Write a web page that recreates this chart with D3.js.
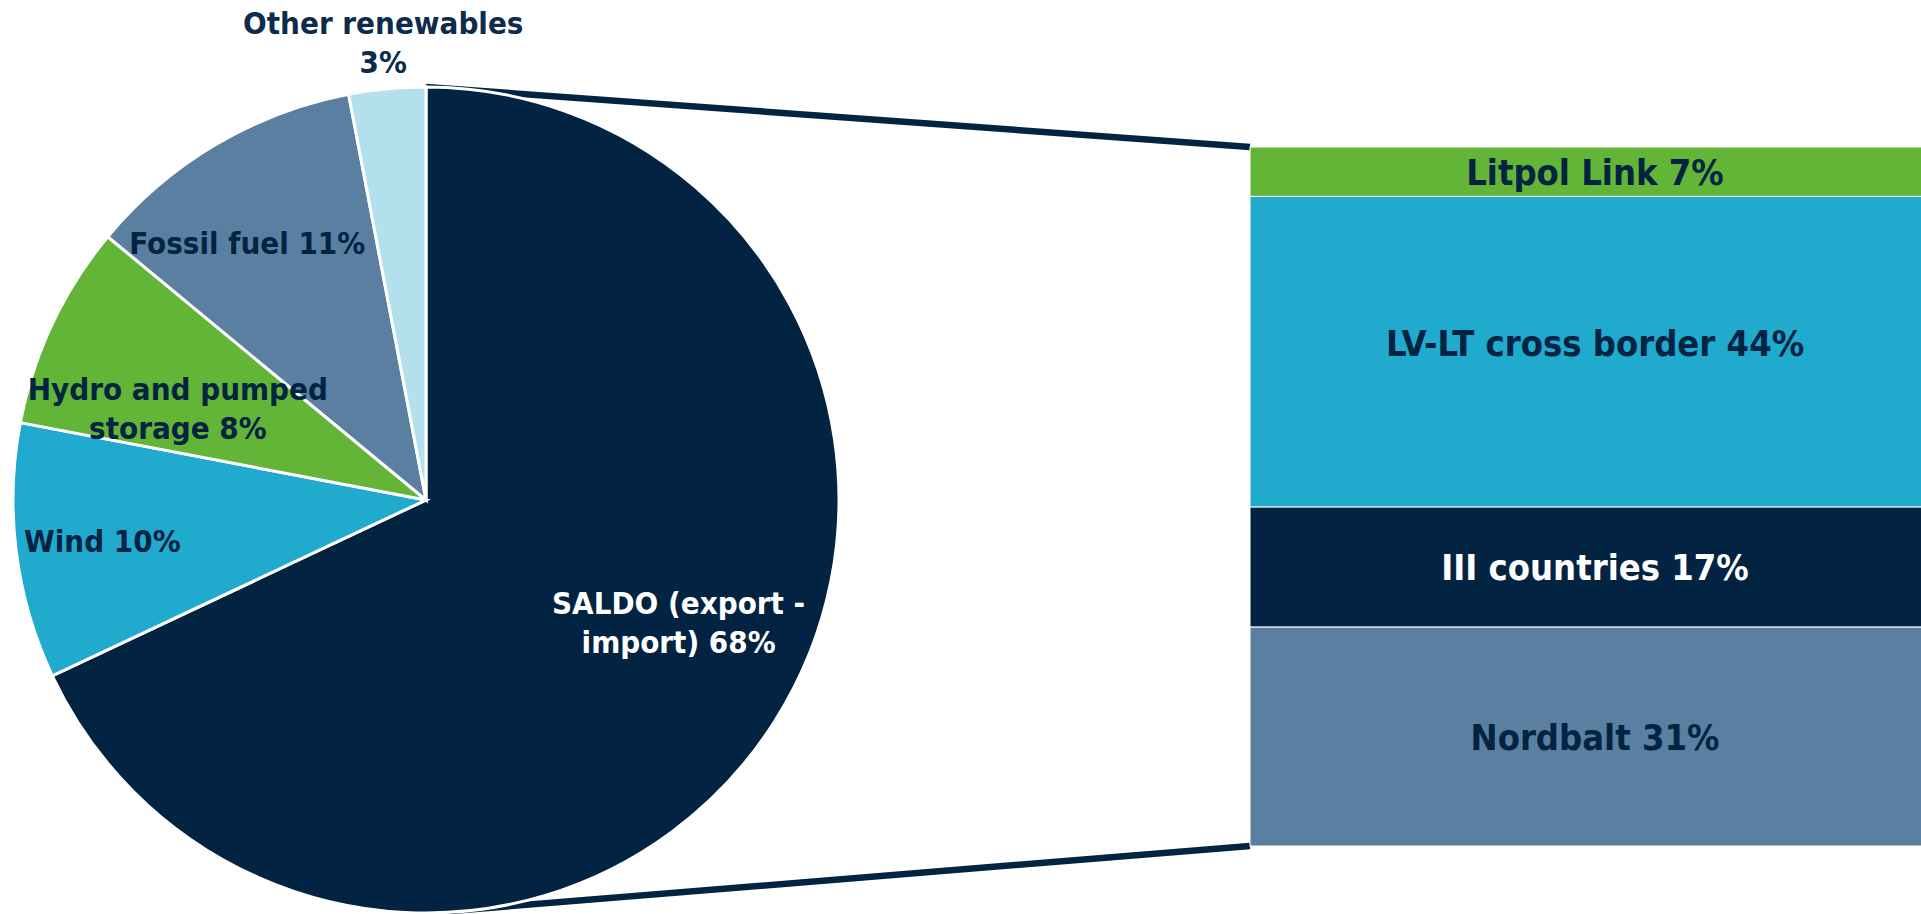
<!DOCTYPE html>
<html>
<head>
    <meta charset="utf-8">
    <title>Electricity balance – pie of bar</title>
    <script src="https://d3js.org/d3.v7.min.js"></script>
    <style>
        html, body { margin: 0; padding: 0; background: #fff; overflow: hidden; }
        text { font-family: "DejaVu Sans Condensed", "DejaVu Sans", sans-serif; font-weight: bold; }
    </style>
</head>
<body>
    <div id="chart"></div>

    <script>
        // pie data (share of total, %)
        const pieNames = ["SALDO (export - import)", "Wind", "Hydro and pumped storage", "Fossil fuel", "Other renewables"];
        const pieValues = [68, 10, 8, 11, 3];
        const pieLabels = [["SALDO (export -", "import) 68%"], ["Wind 10%"], ["Hydro and pumped", "storage 8%"], ["Fossil fuel 11%"], ["Other renewables", "3%"]];

        // breakdown of SALDO (%)
        const barNames = ["Litpol Link", "LV-LT cross border", "III countries", "Nordbalt"];
        const barValues = [7, 44, 17, 31];
        const barLabels = ["Litpol Link 7%", "LV-LT cross border 44%", "III countries 17%", "Nordbalt 31%"];

        const width = 1921, height = 914;
        const navy = "#022341";
        const pieColors = [navy, "#1faace", "#63b537", "#5b7fa1", "#b4e0ee"];
        const pieTextColors = ["#ffffff", navy, navy, navy, "#0d2b4b"];
        const barColors = ["#63b537", "#1faace", navy, "#5b7fa1"];
        const barTextColors = [navy, navy, "#ffffff", navy];
        // label placement: radius fraction along the slice middle, plus a small nudge (px)
        const labelRadius = [0.69, 0.79, 0.64, 0.76, 1.1];
        const labelNudge = [[12, -30], [0, 0], [-9, 21], [-19, 13], [0, -5]];
        const barLabelNudge = [0, -9, 0, 0];

        const pieFont = 31, barFont = 36, lineH = 39;

        const svg = d3.select("#chart")
            .append("svg")
            .attr("width", width)
            .attr("height", height);

        // pie
        const cx = 426, cy = 500, r = 413;
        const pie = d3.pie().sort(null).value(d => d);
        const arc = d3.arc().innerRadius(0).outerRadius(r);
        const arcs = pie(pieValues);

        // bar
        const barX = 1250, barW = 690;
        const y = d3.scaleLinear()
            .domain([0, d3.sum(barValues)])
            .range([147, 846]);
        let acc = 0;
        const stack = barValues.map(v => { const s = acc; acc += v; return {y0: s, y1: acc}; });

        // connector lines
        svg.append("g")
            .selectAll("line")
            .data([[cx, cy - r, barX, y(0)], [cx, cy + r, barX, y(d3.sum(barValues))]])
            .enter()
            .append("line")
            .attr("x1", d => d[0]).attr("y1", d => d[1])
            .attr("x2", d => d[2]).attr("y2", d => d[3])
            .attr("stroke", navy)
            .attr("stroke-width", 6.5);

        const pg = svg.append("g").attr("transform", `translate(${cx},${cy})`);
        pg.selectAll("path")
            .data(arcs)
            .enter()
            .append("path")
            .attr("d", arc)
            .attr("fill", (d, i) => pieColors[i])
            .attr("stroke", "#fff")
            .attr("stroke-width", 3);

        pg.selectAll("text.pl")
            .data(arcs)
            .enter()
            .append("text")
            .attr("class", "pl")
            .attr("text-anchor", "middle")
            .attr("font-size", pieFont)
            .attr("fill", (d, i) => pieTextColors[i])
            .each(function(d, i) {
                const a = (d.startAngle + d.endAngle) / 2;
                const rr = r * labelRadius[i];
                const x = Math.sin(a) * rr + labelNudge[i][0];
                const yy = -Math.cos(a) * rr + labelNudge[i][1];
                const lines = pieLabels[i];
                d3.select(this).selectAll("tspan")
                    .data(lines)
                    .enter()
                    .append("tspan")
                    .attr("x", x)
                    .attr("y", (t, j) => yy + (j - (lines.length - 1) / 2) * lineH)
                    .attr("dy", "0.36em")
                    .text(t => t);
            });

        const bg = svg.append("g");
        bg.selectAll("rect")
            .data(stack)
            .enter()
            .append("rect")
            .attr("x", barX)
            .attr("y", d => y(d.y0))
            .attr("width", barW)
            .attr("height", d => y(d.y1) - y(d.y0))
            .attr("fill", (d, i) => barColors[i])
            .attr("stroke", "#fff")
            .attr("stroke-width", 1);

        bg.selectAll("text")
            .data(stack)
            .enter()
            .append("text")
            .attr("x", barX + barW / 2)
            .attr("y", (d, i) => (y(d.y0) + y(d.y1)) / 2 + barLabelNudge[i])
            .attr("dy", "0.36em")
            .attr("text-anchor", "middle")
            .attr("font-size", barFont)
            .attr("fill", (d, i) => barTextColors[i])
            .text((d, i) => barLabels[i]);
    </script>
</body>
</html>
